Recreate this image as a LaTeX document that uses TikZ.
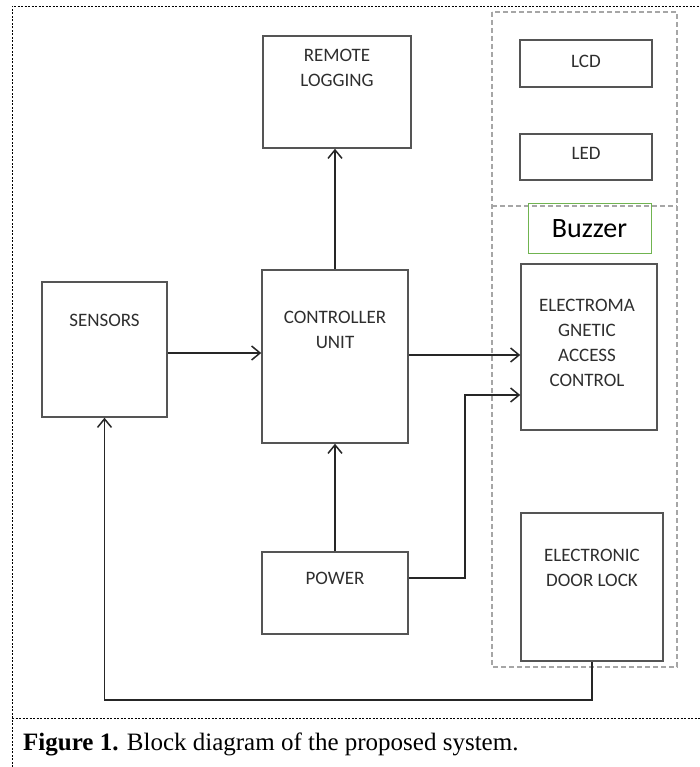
\documentclass[tikz,border=0pt]{standalone}
\usepackage{fontspec}
\setmainfont{Liberation Serif}
\newfontfamily\lblfont{Carlito}
\usetikzlibrary{arrows.meta}
\definecolor{boxgray}{HTML}{555555}
\definecolor{txtgray}{HTML}{2E2E2E}
\definecolor{grpgray}{HTML}{A6A6A6}
\definecolor{buzgreen}{HTML}{70B450}
\tikzset{
  blk/.style={draw=boxgray, line width=1.5pt, rectangle, inner sep=0pt},
  lbl/.style={font=\lblfont\fontsize{19}{25}\selectfont, text=txtgray, align=center, inner sep=0pt},
  arr/.style={draw=black!85, line width=1.5pt, -{Straight Barb[length=8.5pt,width=14pt,line width=1.5pt]}},
  grp/.style={draw=grpgray, line width=1.3pt, dash pattern=on 5pt off 3pt},
  frame/.style={draw=black, line width=0.7pt, dash pattern=on 2pt off 1.5pt}
}
\begin{document}
\begin{tikzpicture}[x=1pt,y=-1pt]
\useasboundingbox (0,0) rectangle (700,767);
% outer frame
\draw[frame] (12,767) -- (12,6) -- (700,6);
\draw[frame] (12,718) -- (700,718);
% group box
\draw[grp] (492,12) rectangle (677,667);
\draw[grp] (492,206) -- (677,206);
% boxes
\node[blk, minimum width=148pt, minimum height=112pt] (remote) at (337,92) {};
\node[blk, minimum width=125pt, minimum height=135pt] (sensors) at (104.5,349.5) {};
\node[blk, minimum width=146pt, minimum height=173pt] (ctrl) at (335,356.5) {};
\node[blk, minimum width=146pt, minimum height=82pt] (power) at (335,593) {};
\node[blk, minimum width=136pt, minimum height=166pt] (eac) at (589,347) {};
\node[blk, minimum width=142pt, minimum height=148pt] (lock) at (592,587) {};
\node[blk, minimum width=132pt, minimum height=47pt] (lcd) at (586,63.5) {};
\node[blk, minimum width=132pt, minimum height=46pt] (led) at (586,157) {};
\node[draw=buzgreen, line width=1pt, minimum width=123pt, minimum height=49pt, inner sep=0pt] (buzzer) at (589.5,228.5) {};
% labels
\node[lbl] (tremote) at (337,67.5) {REMOTE\\LOGGING};
\node[lbl] (tsensors) at (104.5,320) {SENSORS};
\node[lbl] (tctrl) at (335,329.5) {CONTROLLER\\UNIT};
\node[lbl] (tpower) at (335,578) {POWER};
\node[lbl] (teac) at (587,342.5) {ELECTROMA\\GNETIC\\ACCESS\\CONTROL};
\node[lbl] (tlock) at (592,568) {ELECTRONIC\\DOOR LOCK};
\node[lbl] (tlcd) at (586,61) {LCD};
\node[lbl] (tled) at (586,153) {LED};
\node[font=\lblfont\fontsize{28}{30}\selectfont, text=black, inner sep=0pt] (tbuzzer) at (589.5,229) {Buzzer};
% connectors
\draw[arr] (sensors.east |- 0,353) -- (ctrl.west |- 0,353);
\draw[arr] (ctrl.north) -- (ctrl.north |- remote.south);
\draw[arr] (power.north) -- (ctrl.south);
\draw[arr] (ctrl.east |- 0,355) -- (eac.west |- 0,355);
\coordinate (pbend) at (465,578);
\draw[arr] (power.east |- pbend) -- (pbend) |- (eac.west |- 0,395);
\coordinate (loop) at (592,700);
\draw[arr] (lock.south) -- (loop) -| (sensors.south);
% caption
\node[anchor=base west, inner sep=0pt, font=\fontsize{25}{28}\selectfont] (cap) at (23,750) {\textbf{Figure 1.} Block diagram of the proposed system.};
\end{tikzpicture}
\end{document}
